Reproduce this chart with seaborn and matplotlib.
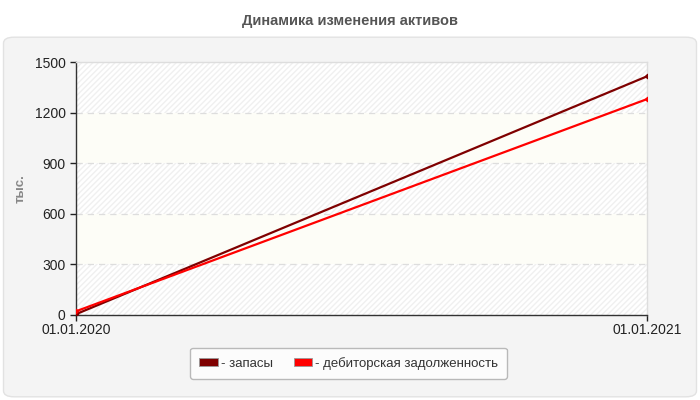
import pandas as pd
import matplotlib.pyplot as plt
import seaborn as sns
from matplotlib.patches import FancyBboxPatch

# Values
dates = ['01.01.2020', '01.01.2021']
zapasy = [5, 1415]
debitorka = [22, 1280]
series_names = ['- запасы', '- дебиторская задолженность']
series_colors = ['#7f0000', '#ff0000']
y_ticks = [0, 300, 600, 900, 1200, 1500]

df = pd.DataFrame({
    'pos': list(range(len(dates))) * 2,
    'value': zapasy + debitorka,
    'series': [series_names[0]] * len(dates) + [series_names[1]] * len(dates),
})

sns.set_style('white')
plt.rcParams['font.family'] = ['Liberation Sans', 'DejaVu Sans']

fig = plt.figure(figsize=(7, 4), dpi=100)
fig.patch.set_facecolor('white')

# grey rounded panel behind the chart
panel = FancyBboxPatch((0.005, 0.008), 0.99, 0.899, boxstyle='round,pad=0,rounding_size=0.015',
                       transform=fig.transFigure, facecolor='#f4f4f4', edgecolor='#e2e2e2',
                       linewidth=1, zorder=-10)
fig.patches.append(panel)

fig.text(0.5, 0.948, 'Динамика изменения активов', ha='center', va='center',
         fontsize=10.5, fontweight='bold', color='#555555',
         family=['Liberation Sans Narrow', 'Liberation Sans', 'DejaVu Sans'])

ax = fig.add_axes([0.1086, 0.2125, 0.8157, 0.6325])
ax.set_facecolor('white')

# alternating bands: hatched white / pale yellow
for i in range(len(y_ticks) - 1):
    lo, hi = y_ticks[i], y_ticks[i + 1]
    if i % 2 == 0:
        ax.axhspan(lo, hi, facecolor='white', edgecolor='#f0f0f0', hatch='//////',
                   linewidth=0, zorder=0)
    else:
        ax.axhspan(lo, hi, facecolor='#fdfdf7', linewidth=0, zorder=0)

for t in y_ticks[1:-1]:
    ax.axhline(t, color='#dddddd', linestyle=(0, (5, 4)), linewidth=0.9, zorder=1)

sns.lineplot(data=df, x='pos', y='value', hue='series', palette=series_colors,
             linewidth=1.6, marker='D', markersize=3, markeredgewidth=0,
             ax=ax, zorder=3, legend=False)

ax.set_xlim(0, len(dates) - 1)
ax.set_ylim(0, 1500)
ax.set_xticks(range(len(dates)))
ax.set_xticklabels(dates)
ax.set_yticks(y_ticks)
ax.set_xlabel('')
ax.set_ylabel('тыс.', color='#888888', fontweight='bold', fontsize=9.5)
ax.yaxis.set_label_coords(-0.086, 0.5)
ax.tick_params(axis='both', labelsize=10, colors='#222222', length=4, width=1,
               direction='out', left=True, bottom=True)
ax.tick_params(axis='x', pad=2)

for side in ['left', 'bottom']:
    ax.spines[side].set_color('#333333')
    ax.spines[side].set_linewidth(1)
for side in ['top', 'right']:
    ax.spines[side].set_color('#dddddd')
    ax.spines[side].set_linewidth(1)

# legend with rounded colour swatches
handles = [FancyBboxPatch((0, 0), 1, 1, boxstyle='round,pad=0,rounding_size=0.3',
                          facecolor=c, edgecolor='#999999', linewidth=0.6)
           for c in series_colors]
leg = fig.legend(handles, series_names, loc='center', bbox_to_anchor=(0.498, 0.0915),
                 ncol=2, fontsize=9.5, frameon=True, fancybox=True, handlelength=1.4,
                 handleheight=0.6, handletextpad=0.2, columnspacing=1.6,
                 borderpad=0.7, labelcolor='#333333')
leg.get_frame().set_edgecolor('#aaaaaa')
leg.get_frame().set_facecolor('white')
leg.get_frame().set_linewidth(1)

fig.savefig('out.png', dpi=100, facecolor='white')
